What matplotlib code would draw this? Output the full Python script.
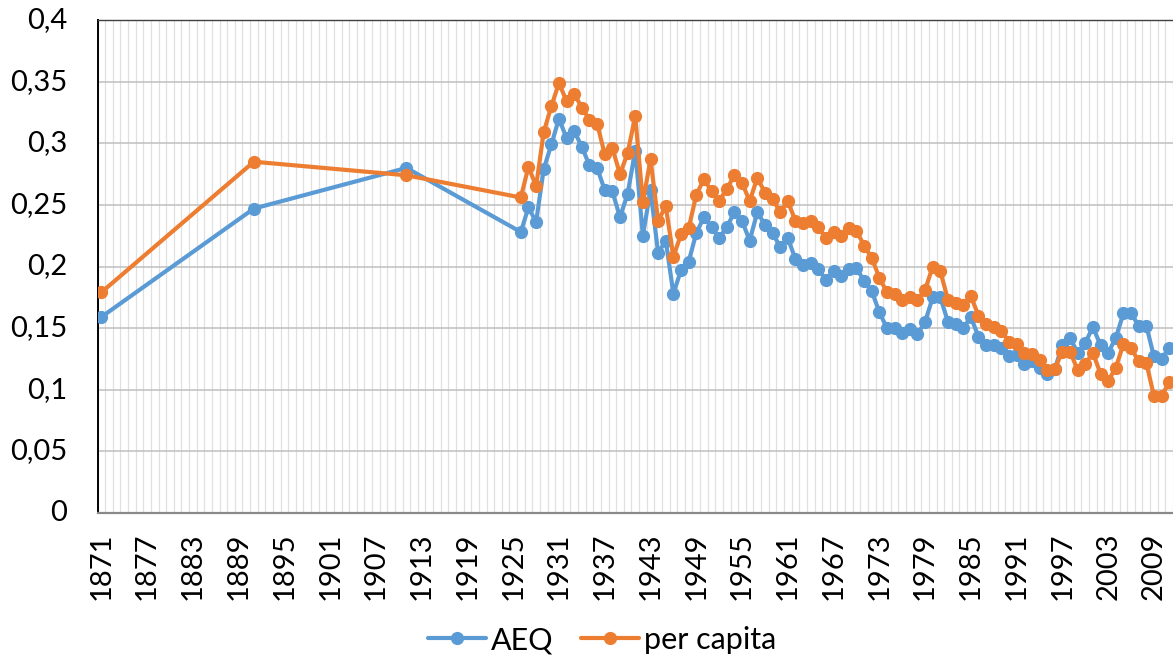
import matplotlib
matplotlib.use("Agg")
import matplotlib.pyplot as plt
from matplotlib.ticker import FixedLocator, FuncFormatter

plt.rcParams['font.family'] = ['Lato', 'DejaVu Sans']

years = [1871, 1891, 1911] + list(range(1926, 2012))

aeq = [0.159, 0.247, 0.280,
       0.228, 0.248, 0.236, 0.279, 0.299, 0.320, 0.304, 0.310, 0.297, 0.282,   # 1926-1935
       0.280, 0.262, 0.261, 0.240, 0.259, 0.294, 0.225, 0.262, 0.211, 0.221,   # 1936-1945
       0.178, 0.197, 0.204, 0.227, 0.240, 0.232, 0.223, 0.232, 0.244, 0.237,   # 1946-1955
       0.221, 0.244, 0.234, 0.227, 0.216, 0.223, 0.206, 0.201, 0.203, 0.198,   # 1956-1965
       0.189, 0.196, 0.192, 0.198, 0.199, 0.188, 0.180, 0.163, 0.150, 0.150,   # 1966-1975
       0.146, 0.149, 0.145, 0.155, 0.175, 0.175, 0.155, 0.153, 0.150, 0.159,   # 1976-1985
       0.143, 0.136, 0.136, 0.134, 0.127, 0.128, 0.121, 0.123, 0.118, 0.113,   # 1986-1995
       0.117, 0.136, 0.142, 0.130, 0.138, 0.151, 0.136, 0.130, 0.142, 0.162,   # 1996-2005
       0.162, 0.152, 0.152, 0.127, 0.125, 0.134]                               # 2006-2011

per_capita = [0.179, 0.285, 0.274,
              0.256, 0.281, 0.265, 0.309, 0.330, 0.349, 0.334, 0.340, 0.329, 0.319,
              0.316, 0.291, 0.296, 0.275, 0.292, 0.322, 0.252, 0.287, 0.237, 0.249,
              0.208, 0.226, 0.231, 0.258, 0.271, 0.261, 0.253, 0.263, 0.274, 0.268,
              0.253, 0.272, 0.260, 0.255, 0.244, 0.253, 0.237, 0.235, 0.237, 0.232,
              0.223, 0.228, 0.225, 0.231, 0.229, 0.217, 0.207, 0.191, 0.179, 0.178,
              0.173, 0.175, 0.173, 0.181, 0.200, 0.196, 0.173, 0.170, 0.169, 0.176,
              0.160, 0.153, 0.151, 0.148, 0.139, 0.137, 0.130, 0.129, 0.124, 0.116,
              0.117, 0.131, 0.131, 0.116, 0.121, 0.130, 0.113, 0.107, 0.118, 0.137,
              0.134, 0.123, 0.122, 0.095, 0.095, 0.106]

x_tick_years = list(range(1871, 2010, 6))
y_ticks = [0, 0.05, 0.1, 0.15, 0.2, 0.25, 0.3, 0.35, 0.4]

fig = plt.figure(figsize=(11.73, 6.6), dpi=100)
ax = fig.add_axes([97.5 / 1173, 147 / 660, 1 - 97.5 / 1173, 493 / 660])

blue = '#5B9BD5'
orange = '#ED7D31'
ax.plot(years, aeq, color=blue, lw=3.0, marker='o', ms=8.5, label='AEQ', zorder=3,
        solid_capstyle='round', solid_joinstyle='round')
ax.plot(years, per_capita, color=orange, lw=3.0, marker='o', ms=8.5, label='per capita', zorder=4,
        solid_capstyle='round', solid_joinstyle='round')

ax.set_xlim(1870.5, 2011.5)
ax.set_ylim(0, 0.4)

ax.yaxis.set_major_locator(FixedLocator(y_ticks))
ax.yaxis.set_major_formatter(FuncFormatter(lambda v, p: ('%g' % round(v, 2)).replace('.', ',')))
ax.xaxis.set_major_locator(FixedLocator(x_tick_years))
ax.xaxis.set_minor_locator(FixedLocator([y + 0.5 for y in range(1870, 2012)]))
ax.xaxis.set_major_formatter(FuncFormatter(lambda v, p: str(int(round(v)))))

ax.grid(axis='y', which='major', color='#BFBFBF', lw=1.1, zorder=1)
ax.grid(axis='x', which='minor', color='#E0E0E0', lw=0.9, zorder=0)
ax.grid(axis='x', which='major', visible=False)
ax.set_axisbelow(True)

ax.tick_params(axis='x', which='both', length=0, labelsize=21, pad=14, labelrotation=90)
ax.tick_params(axis='y', which='both', length=0, labelsize=21, pad=22)

for lab in ax.get_yticklabels():
    lab.set_verticalalignment('center')

ax.spines['left'].set_color('black')
ax.spines['left'].set_linewidth(1.4)
ax.spines['top'].set_color('#404040')
ax.spines['top'].set_linewidth(1.0)
ax.spines['right'].set_visible(False)
ax.spines['bottom'].set_color('#898989')
ax.spines['bottom'].set_linewidth(1.6)

leg = fig.legend(loc='center', bbox_to_anchor=(602 / 1173, 1 - 640 / 660), ncol=2, frameon=False,
                 fontsize=22, handlelength=1.9, handletextpad=0.15, columnspacing=0.9,
                 borderpad=0.0)

fig.savefig('out.png', dpi=100)
